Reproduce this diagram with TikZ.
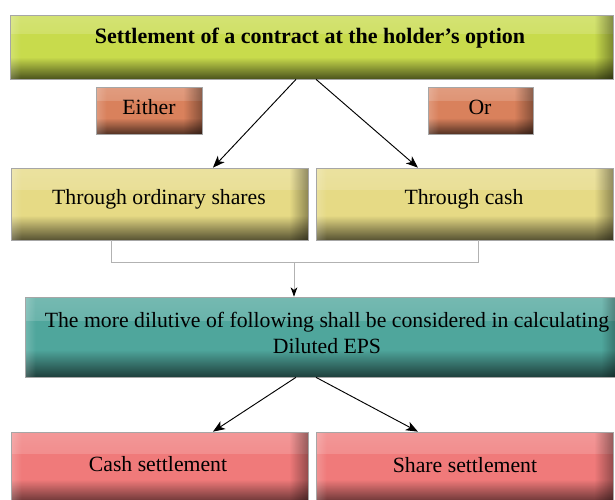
\documentclass[tikz,border=0pt]{standalone}
\usepackage{fontspec}
\setmainfont{Liberation Serif}
\usetikzlibrary{arrows.meta,fadings,calc}
\definecolor{cTop}{HTML}{C8DB4C}
\definecolor{cEo}{HTML}{D9815C}
\definecolor{cYel}{HTML}{E6DA85}
\definecolor{cTeal}{HTML}{4FA69C}
\definecolor{cRed}{HTML}{F07A7A}
\tikzset{
  gloss/.style={draw=black!35, line width=0.5pt, fill=#1, inner sep=0pt,
    path picture={
      \fill[white,opacity=.22,path fading=south] (path picture bounding box.north west) rectangle ($(path picture bounding box.north east)!0.3!(path picture bounding box.south east)$);
      \fill[black,opacity=.62,path fading=north] (path picture bounding box.south west) rectangle ($(path picture bounding box.south east)!0.34!(path picture bounding box.north east)$);
      \fill[black,opacity=.38,path fading=west] (path picture bounding box.north east) rectangle ([xshift=-14pt]path picture bounding box.south east);
      \fill[white,opacity=.2,path fading=east] (path picture bounding box.north west) rectangle ([xshift=8pt]path picture bounding box.south west);
    }},
  sz/.style 2 args={minimum width=#1*0.75pt, minimum height=#2*0.75pt},
  lbl/.style={font=\fontsize{16.3}{19}\selectfont, align=center, inner sep=0pt},
  arr/.style={-{Stealth[length=9pt,width=7pt,inset=2.5pt]}, line width=0.7pt},
  link/.style={draw=black!30, line width=0.6pt},
}
\begin{document}
\begin{tikzpicture}[x=0.75pt,y=-0.75pt]
\useasboundingbox (0,0) rectangle (615,500);
\clip (0,0) rectangle (615,500);
\fill[white] (0,0) rectangle (615,500);
% boxes
\node[gloss=cTop, sz={603}{64}] (top) at (311.5,47) {};
\node[gloss=cEo, sz={106}{47}] (either) at (149,110.5) {};
\node[gloss=cEo, sz={105}{47}] (or) at (480.5,110.5) {};
\node[gloss=cYel, sz={297}{72}] (ts) at (159.5,204) {};
\node[gloss=cYel, sz={297}{72}] (tc) at (464.5,204) {};
\node[gloss=cTeal, sz={595}{80}] (teal) at (322.5,337) {};
\node[gloss=cRed, sz={297}{72}] (cs) at (159.5,468) {};
\node[gloss=cRed, sz={297}{72}] (ss) at (464.5,468) {};
% texts
\node[lbl, font=\fontsize{16.5}{19}\selectfont\bfseries] (topT) at (310,38) {Settlement of a contract at the holder’s option};
\node[lbl] (eitherT) at (149,107) {Either};
\node[lbl] (orT) at (480,107) {Or};
\node[lbl] (tsT) at (159,199) {Through ordinary shares};
\node[lbl] (tcT) at (464,199) {Through cash};
\node[lbl] (tealT) at (327,333) {The more dilutive of following shall be considered in calculating\\Diluted EPS};
\node[lbl] (csT) at (158,464) {Cash settlement};
\node[lbl] (ssT) at (465,465) {Share settlement};
% arrows
\draw[arr] ([xshift=-11.6pt]top.south) -- ([xshift=40.1pt]ts.north);
\draw[arr] ([xshift=3.4pt]top.south) -- ([xshift=-34.9pt]tc.north);
\draw[arr] ([xshift=-19.9pt]teal.south) -- ([xshift=40.1pt]cs.north);
\draw[arr] ([xshift=-4.9pt]teal.south) -- ([xshift=-34.9pt]ss.north);
% gray join
\draw[link] ([xshift=-36.4pt]ts.south) -- ++(0,22) -| ([xshift=10.1pt]tc.south);
\coordinate (jm) at (294,262);
\draw[link, -{Stealth[length=7pt,width=5pt,inset=2pt,black]}] (jm) -- (jm |- teal.north);
\end{tikzpicture}
\end{document}
